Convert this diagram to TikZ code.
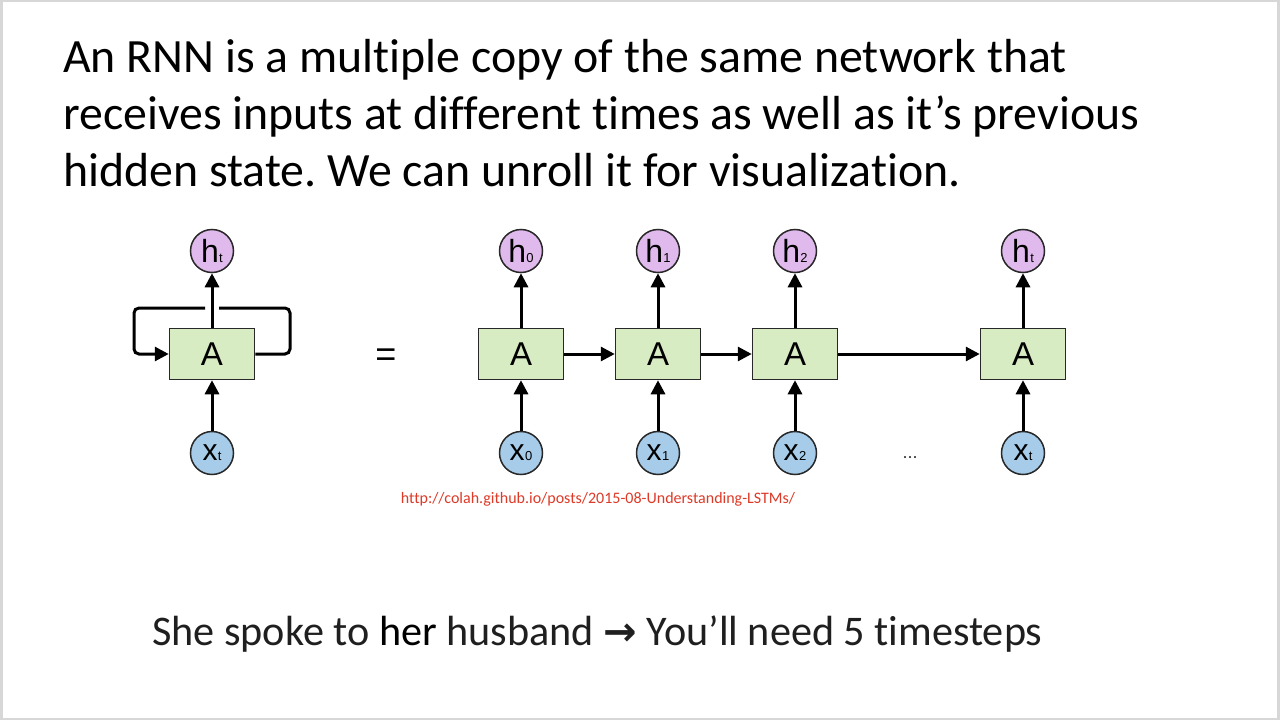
\documentclass[tikz,border=0pt]{standalone}
\usepackage{fontspec}
\setmainfont[Ligatures={NoCommon}]{Carlito}
\newfontfamily\diagfont{Liberation Sans}
\newfontfamily\arrowfont{DejaVu Sans}
\usetikzlibrary{arrows.meta}
\definecolor{hfill}{RGB}{224,186,236}
\definecolor{xfill}{RGB}{166,204,234}
\definecolor{boxfill}{RGB}{216,236,196}
\definecolor{edge}{RGB}{40,40,40}
\definecolor{urlred}{RGB}{222,58,40}
\definecolor{frame}{RGB}{215,215,215}
\tikzset{
  cell/.style={draw=edge, line width=1.5pt, fill=boxfill, minimum width=85pt, minimum height=51pt, inner sep=0pt, font=\diagfont\fontsize{33}{33}\selectfont},
  hnode/.style={circle, draw=edge, line width=1.5pt, fill=hfill, minimum size=43pt, inner sep=0pt, font=\diagfont\fontsize{32}{32}\selectfont},
  xnode/.style={circle, draw=edge, line width=1.5pt, fill=xfill, minimum size=43pt, inner sep=0pt, font=\diagfont\fontsize{30}{30}\selectfont},
  flow/.style={draw=black, line width=3pt, -{Triangle[length=14pt,width=14pt]}},
  loopline/.style={draw=black, line width=3pt},
  titletext/.style={anchor=base west, inner sep=0pt, font=\fontsize{47.8}{47.8}\selectfont},
}
\newcommand{\lbl}[2]{#1\kern0.3pt{\fontsize{13}{13}\selectfont #2}}
\begin{document}
\frenchspacing
\begin{tikzpicture}[x=1pt,y=-1pt]
\useasboundingbox (0,0) rectangle (1280,720);
\fill[frame] (0,0) rectangle (1280,720);
\fill[white] (3,2) rectangle (1277,718);

% title
\node[titletext] (t1) at (63,72) {An RNN is a multiple copy of the same network that};
\node[titletext] (t2) at (63,129) {receives inputs at different times as well as it’s previous};
\node[titletext] (t3) at (63,186) {hidden state. We can unroll it for visualization.};

% rolled network
\node[cell] (A) at (212,354) {A};
\node[hnode] (h) at (212,251) {\lbl{h}{t}};
\node[xnode] (x) at (212,453) {\lbl{x}{t}};
\draw[flow] (x) -- (A);
\draw[flow] (A) -- (h);
\coordinate (lr1) at (290,354);
\coordinate (lr2) at (290,308);
\coordinate (lg1) at (219,308);
\coordinate (lg2) at (205,308);
\coordinate (ll1) at (134,308);
\coordinate (ll2) at (134,354);
\draw[loopline, rounded corners=5pt] (A.east) -- (lr1) -- (lr2) -- (lg1);
\draw[flow, rounded corners=5pt] (lg2) -- (ll1) -- (ll2) -- (A.west);

\node[font=\diagfont\fontsize{36}{36}\selectfont] (eq) at (386,358) {=};

% unrolled network
\foreach \n/\xx/\s in {0/521/0,1/658/1,2/795/2,3/1023/t}{
  \node[cell] (A\n) at (\xx,354) {A};
  \node[hnode] (h\n) at (\xx,251) {\lbl{h}{\s}};
  \node[xnode] (x\n) at (\xx,453) {\lbl{x}{\s}};
  \draw[flow] (x\n) -- (A\n);
  \draw[flow] (A\n) -- (h\n);
}
\draw[flow] (A0) -- (A1);
\draw[flow] (A1) -- (A2);
\draw[flow] (A2) -- (A3);
\node[font=\diagfont\fontsize{18}{18}\selectfont, text=black!80] (dots) at (910,458) {...};

% url
\node[anchor=base, inner sep=0pt, text=urlred, font=\fontsize{16}{16}\selectfont] (url) at (598,503) {http://colah.github.io/posts/2015-08-Understanding-LSTMs/};

% bottom sentence
\node[anchor=base west, inner sep=0pt, font=\fontsize{42.2}{42.2}\selectfont, text=black!88] (bottom) at (152,645) {She spoke to \textcolor{black}{her} husband {\arrowfont\bfseries\fontsize{40}{40}\selectfont →} You’ll need 5 timesteps};
\end{tikzpicture}
\end{document}
